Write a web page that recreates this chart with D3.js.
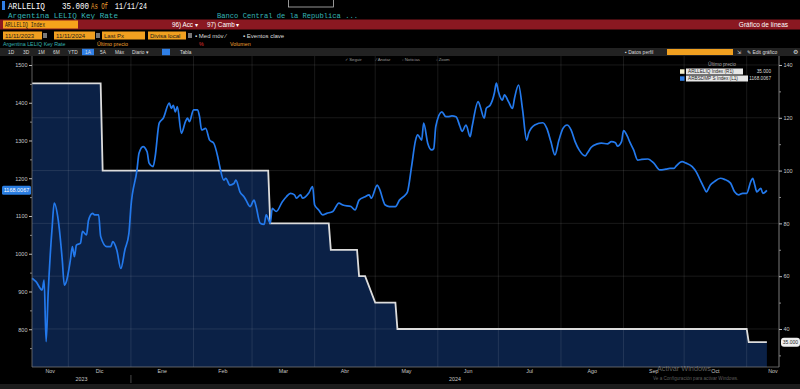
<!DOCTYPE html>
<html><head><meta charset="utf-8">
<script src="https://cdn.jsdelivr.net/npm/d3@7"></script>
<style>
html,body{margin:0;padding:0;background:#000;overflow:hidden;}
svg{display:block;}
</style></head>
<body>
<svg id="c" width="800" height="389"></svg>
<script>
// ---------------- DATA ----------------
const blueDates = ["2023-11-13","2023-11-15","2023-11-18","2023-11-19","2023-11-20","2023-11-21","2023-11-23","2023-11-24","2023-11-26","2023-11-28","2023-11-29","2023-11-30",
"2023-12-02","2023-12-03","2023-12-04","2023-12-05","2023-12-07","2023-12-08","2023-12-10","2023-12-11","2023-12-13","2023-12-14","2023-12-16","2023-12-17","2023-12-20","2023-12-22","2023-12-23","2023-12-25","2023-12-27","2023-12-29","2023-12-31",
"2024-01-01","2024-01-04","2024-01-05","2024-01-07","2024-01-09","2024-01-10","2024-01-12","2024-01-13","2024-01-15","2024-01-17","2024-01-20","2024-01-21","2024-01-22","2024-01-23","2024-01-24","2024-01-26","2024-01-28","2024-01-29","2024-01-30",
"2024-02-01","2024-02-03","2024-02-04","2024-02-05","2024-02-07","2024-02-09","2024-02-11","2024-02-13","2024-02-14","2024-02-16","2024-02-17","2024-02-19","2024-02-21","2024-02-22","2024-02-24","2024-02-26","2024-02-27","2024-02-29",
"2024-03-02","2024-03-03","2024-03-05","2024-03-07","2024-03-08","2024-03-10","2024-03-11","2024-03-13","2024-03-16","2024-03-18","2024-03-20","2024-03-22","2024-03-23","2024-03-25","2024-03-26","2024-03-29","2024-03-31",
"2024-04-01","2024-04-03","2024-04-05","2024-04-07","2024-04-10","2024-04-13","2024-04-15","2024-04-19","2024-04-21","2024-04-23","2024-04-26","2024-04-28","2024-04-29",
"2024-05-02","2024-05-03","2024-05-06","2024-05-08","2024-05-11","2024-05-13","2024-05-16","2024-05-17","2024-05-19","2024-05-21","2024-05-22","2024-05-24","2024-05-25","2024-05-27","2024-05-29","2024-05-30","2024-05-31",
"2024-06-03","2024-06-05","2024-06-06","2024-06-08","2024-06-10","2024-06-12","2024-06-13","2024-06-15","2024-06-17","2024-06-18","2024-06-21","2024-06-22","2024-06-24","2024-06-25","2024-06-27","2024-06-29","2024-06-30",
"2024-07-01","2024-07-03","2024-07-04","2024-07-06","2024-07-08","2024-07-09","2024-07-11","2024-07-13","2024-07-15","2024-07-16","2024-07-19","2024-07-23","2024-07-25","2024-07-27","2024-07-29","2024-07-31",
"2024-08-02","2024-08-04","2024-08-06","2024-08-08","2024-08-10","2024-08-13","2024-08-14","2024-08-16","2024-08-19","2024-08-21","2024-08-24","2024-08-26","2024-08-28","2024-08-29","2024-08-31",
"2024-09-01","2024-09-03","2024-09-04","2024-09-06","2024-09-08","2024-09-10","2024-09-13","2024-09-16","2024-09-19","2024-09-22","2024-09-24","2024-09-26","2024-09-27","2024-09-30",
"2024-10-02","2024-10-05","2024-10-07","2024-10-09","2024-10-11","2024-10-12","2024-10-14","2024-10-16","2024-10-19","2024-10-21","2024-10-24","2024-10-26","2024-10-28","2024-10-30",
"2024-11-01","2024-11-03","2024-11-04","2024-11-05","2024-11-06","2024-11-08","2024-11-09","2024-11-11"];
const blueValues = [935,926,904,930,767,895,1072,1134,1089,983,917,926,
983,1019,992,1023,1028,1059,1050,1089,1107,1103,1103,1046,1019,1019,1032,1010,961,1010,1054,
1125,1222,1266,1284,1270,1240,1231,1257,1346,1359,1399,1385,1393,1376,1390,1319,1350,1359,1350,
1381,1381,1363,1328,1332,1301,1293,1257,1231,1195,1200,1182,1186,1195,1164,1151,1142,1125,
1142,1125,1081,1078,1103,1081,1120,1112,1138,1151,1160,1156,1147,1156,1147,1160,1178,
1129,1116,1103,1107,1112,1134,1129,1125,1116,1142,1151,1156,1147,
1182,1173,1129,1125,1125,1142,1156,1164,1231,1301,1315,1301,1346,1293,1275,1279,1337,
1376,1363,1363,1365,1363,1337,1324,1341,1310,1337,1403,1390,1359,1385,1394,1425,1452,
1430,1407,1421,1403,1385,1412,1447,1381,1301,1319,1341,1347,1332,1297,1262,1301,
1332,1341,1328,1297,1275,1259,1266,1282,1291,1293,1291,1297,1294,1285,1297,
1326,1310,1297,1275,1248,1250,1251,1240,1222,1224,1226,1226,1232,1244,
1240,1231,1217,1195,1173,1164,1182,1191,1200,1197,1187,1164,1156,1160,
1160,1191,1200,1182,1164,1173,1160,1168.0067];

const rateDates  = ["2023-11-13","2023-12-17","2023-12-18","2024-03-09","2024-03-10","2024-04-08","2024-04-09","2024-04-22","2024-04-23","2024-04-26","2024-05-01","2024-05-11","2024-05-12","2024-11-01","2024-11-02","2024-11-11"];
const rateValues = [133,133,100,100,80,80,70,70,60,60,50,50,40,40,35,35];

const leftTicks  = [800,900,1000,1100,1200,1300,1400,1500];
const leftMinor  = [750,850,950,1050,1150,1250,1350,1450];
const rightTicks = [40,60,80,100,120,140];
const rightMinor = [30,50,70,90,110,130];
const monthNames = ["Ene","Feb","Mar","Abr","May","Jun","Jul","Ago","Sep","Oct","Nov","Dic"];
const seriesNames = ["ARLLELIQ Index (R1)","ARBSDMP S Index (L1)"];
const lastValues = ["35.000","1168.0067"];

// ---------------- SETUP ----------------
const parse = d3.timeParse("%Y-%m-%d");
const svg = d3.select("#c");
const P = {left:32, right:779, top:56, bottom:367};
const x  = d3.scaleTime().domain([parse("2023-11-13"), parse("2024-11-17")]).range([P.left, P.right]);
const yL = d3.scaleLinear().domain([700, 1523.8]).range([P.bottom, P.top]);
const yR = d3.scaleLinear().domain([25.6, 143.4]).range([P.bottom, P.top]);

const blue = blueDates.map((d,i)=>({date:parse(d), v:blueValues[i]}));
const rate = rateDates.map((d,i)=>({date:parse(d), v:rateValues[i]}));

const SANS = "'Liberation Sans', Arial, sans-serif";
const MONO = "'Liberation Mono', 'DejaVu Sans Mono', monospace";
function txt(xp, yp, s, o={}) {
  const t = svg.append("text").attr("x",xp).attr("y",yp).text(s)
    .attr("fill", o.fill||"#fff").attr("font-size", o.size||6)
    .attr("font-family", o.font||SANS).attr("text-anchor", o.anchor||"start")
    .attr("font-weight", o.weight||"normal");
  if (o.len) t.attr("textLength", o.len).attr("lengthAdjust","spacingAndGlyphs");
  return t;
}
function rect(xp,yp,w,h,fill,o={}) {
  return svg.append("rect").attr("x",xp).attr("y",yp).attr("width",w).attr("height",h)
    .attr("fill",fill).attr("rx",o.rx||0).attr("stroke",o.stroke||"none").attr("stroke-width",o.sw||1);
}

// ---------------- HEADER ----------------
rect(2,1,3,9,"#2f7fe6");
txt(8,8.8,"ARLLELIQ",{font:MONO,size:8.5,len:37});
txt(62,8.8,"35.000",{font:MONO,size:8.5,len:27});
txt(91,8.8,"As Of",{font:MONO,size:8.5,fill:"#f0a030",len:17});
txt(115,8.8,"11/11/24",{font:MONO,size:8.5,len:32});
rect(288.5,-1,45,8,"none",{stroke:"#bbb",sw:0.8});
txt(8,17.8,"Argentina LELIQ Key Rate",{font:MONO,size:7.6,fill:"#36b4b4",len:110});
txt(217,17.8,"Banco Central de la Republica ...",{font:MONO,size:7.3,fill:"#36b4b4",len:141});

rect(0,19.5,800,10,"#8a1821");
rect(3,20.5,75,8,"#f6a31b");
txt(5,27.2,"ARLLELIQ Index",{size:6.8,fill:"#1a1a1a",font:MONO,len:40});
txt(172,27,"96) Acc ▾",{size:6.3});
txt(207,27,"97) Camb ▾",{size:6.3});
txt(788,27,"Gráfico de líneas",{size:6.5,anchor:"end"});

[[3,39,"11/11/2023"],[54,41,"11/11/2024"],[102,43,"Last Px"],[148,38,"Divisa local"]].forEach(b=>{
  rect(b[0],31.5,b[1],8,"#f0a020");
  txt(b[0]+2,38.2,b[2],{size:6,fill:"#1a1a1a"});
});
rect(43,33,4,5,"#777"); rect(96,33,4,5,"#777"); rect(188,33,4,5,"#777");
txt(195,38.2,"▪ Med móv ⁄",{size:6,fill:"#ddd"});
txt(243,38.2,"▪ Eventos clave",{size:6,fill:"#ddd"});

txt(3,46,"Argentina LELIQ Key Rate",{size:5.3,fill:"#36b4b4"});
txt(97,46,"Último precio",{size:5.3,fill:"#f0a030"});
txt(199,46,"%",{size:5.3,fill:"#e03030"});
txt(230,46,"Volumen",{size:5.3,fill:"#f0a030"});

rect(0,48,800,8,"#222");
[["1D",8],["3D",23],["1M",38],["6M",53],["YTD",68],["1A",85],["5A",100],["Máx",115],["Diario ▾",132],["Tabla",180]].forEach(b=>{
  if (b[0]==="1A") rect(82,48.8,12,6.4,"#2f7fe6");
  txt(b[1],54,b[0],{size:4.8,fill:"#ddd"});
});
rect(162,48.8,8,6.4,"#2f7fe6");
txt(625,54,"▪ Datos perfil",{size:5,fill:"#ddd"});
rect(667,49,66,6,"#f0a020");
txt(737,54,"⇲",{size:5,fill:"#ddd"});
txt(747,54,"✎ Edit gráfico",{size:5,fill:"#ddd"});
txt(793,54,"⚙",{size:5.5,fill:"#ddd"});

// ---------------- PLOT ----------------
const g = svg.append("g");
g.append("path").datum(rate)
  .attr("d", d3.area().x(d=>x(d.date)).y0(P.bottom).y1(d=>yR(d.v)))
  .attr("fill","#0b2146");

const months = d3.timeMonth.range(d3.timeMonth.ceil(x.domain()[0]), x.domain()[1]);
g.selectAll(".vg").data(months).join("line")
  .attr("x1",d=>x(d)).attr("x2",d=>x(d)).attr("y1",P.top).attr("y2",P.bottom)
  .attr("stroke","#fff").attr("stroke-opacity",0.14).attr("stroke-width",0.7);
g.selectAll(".hg").data(rightTicks).join("line")
  .attr("x1",P.left).attr("x2",P.right).attr("y1",d=>yR(d)).attr("y2",d=>yR(d))
  .attr("stroke","#fff").attr("stroke-opacity",0.14).attr("stroke-width",0.7);

g.append("path").datum(rate)
  .attr("d", d3.line().x(d=>x(d.date)).y(d=>yR(d.v)))
  .attr("fill","none").attr("stroke","#dcdcdc").attr("stroke-width",1.8);
g.append("path").datum(blue)
  .attr("d", d3.line().x(d=>x(d.date)).y(d=>yL(d.v)).curve(d3.curveMonotoneX))
  .attr("fill","none").attr("stroke","#2379ec").attr("stroke-width",1.7);

svg.append("line").attr("x1",P.left).attr("x2",P.left).attr("y1",P.top).attr("y2",P.bottom).attr("stroke","#777").attr("stroke-width",0.8);
svg.append("line").attr("x1",P.right).attr("x2",P.right).attr("y1",P.top).attr("y2",P.bottom).attr("stroke","#999").attr("stroke-width",0.8);
svg.append("line").attr("x1",P.left).attr("x2",P.right).attr("y1",P.bottom).attr("y2",P.bottom).attr("stroke","#777").attr("stroke-width",0.8);

const axL = d3.axisLeft(yL).tickValues(leftTicks).tickSize(3).tickPadding(1.5).tickFormat(d3.format("d"));
const gL = svg.append("g").attr("transform",`translate(${P.left},0)`).call(axL);
gL.select(".domain").remove();
gL.selectAll("line").attr("stroke","#bbb");
gL.selectAll("text").attr("fill","#c8c8c8").attr("font-size",5.5).attr("font-family",SANS);
svg.append("g").attr("transform",`translate(${P.left},0)`)
  .call(d3.axisLeft(yL).tickValues(leftMinor).tickSize(2).tickFormat(""))
  .call(s=>{s.select(".domain").remove(); s.selectAll("line").attr("stroke","#888");});

const axR = d3.axisRight(yR).tickValues(rightTicks).tickSize(3).tickPadding(1.5).tickFormat(d3.format("d"));
const gR = svg.append("g").attr("transform",`translate(${P.right},0)`).call(axR);
gR.select(".domain").remove();
gR.selectAll("line").attr("stroke","#bbb");
gR.selectAll("text").attr("fill","#c8c8c8").attr("font-size",5.5).attr("font-family",SANS);
svg.append("g").attr("transform",`translate(${P.right},0)`)
  .call(d3.axisRight(yR).tickValues(rightMinor).tickSize(2).tickFormat(""))
  .call(s=>{s.select(".domain").remove(); s.selectAll("line").attr("stroke","#888");});

const allMonths = d3.timeMonth.range(d3.timeMonth.floor(x.domain()[0]), x.domain()[1]);
allMonths.forEach(m=>{
  const s = Math.max(x(m), P.left);
  const e = x(d3.timeMonth.offset(m,1));
  const cx = Math.min((s+e)/2, P.right-6);
  txt(cx, 373, monthNames[m.getMonth()], {size:5.3, fill:"#c8c8c8", anchor:"middle"});
});
const years = d3.timeYear.range(d3.timeYear.floor(x.domain()[0]), x.domain()[1]);
years.forEach(yv=>{
  const s = Math.max(x(yv), P.left);
  const e = Math.min(x(d3.timeYear.offset(yv,1)), P.right);
  txt((s+e)/2, 381, String(yv.getFullYear()), {size:5.3, fill:"#c8c8c8", anchor:"middle"});
  if (x(yv) > P.left) svg.append("line").attr("x1",x(yv)).attr("x2",x(yv)).attr("y1",375).attr("y2",383).attr("stroke","#666").attr("stroke-width",0.7);
});

[["✓ Seguir",345],["⁄ Anotar",376],["▫ Noticias",402],["▫ Zoom",436]].forEach(t=>txt(t[1],60.5,t[0],{size:4.3,fill:"#999"}));

txt(722,66,"Último precio",{size:4.8,fill:"#aaa",anchor:"middle"});
const legColors = ["#f3efcc","#2f7fe6"];
seriesNames.forEach((n,i)=>{
  const yy = 68.5 + i*7;
  rect(680, yy+0.8, 4.5, 4.5, legColors[i]);
  rect(686, yy, i===0?57:62, 6, "#e6e6e6");
  txt(688, yy+4.7, n, {size:4.7, fill:"#222"});
  txt(771, yy+4.7, lastValues[i], {size:4.7, fill:"#ddd", anchor:"end"});
});

const yb = yL(blueValues[blueValues.length-1]);
rect(2, yb-4.5, 29, 9, "#2a7de1", {rx:1.5});
txt(16.5, yb+2, lastValues[1], {size:5.5, anchor:"middle"});
const yr = yR(rateValues[rateValues.length-1]);
rect(781, yr-4.5, 19, 9, "#efefef", {rx:3});
txt(790.5, yr+2, lastValues[0], {size:5, anchor:"middle", fill:"#222"});

svg.append("text").attr("x",657).attr("y",370.5).text("Activar Windows")
  .attr("fill","#aaa").attr("fill-opacity",0.55).attr("font-size",7.3).attr("font-family",SANS);
svg.append("text").attr("x",653).attr("y",380).text("Ve a Configuración para activar Windows.")
  .attr("fill","#aaa").attr("fill-opacity",0.55).attr("font-size",4.6).attr("font-family",SANS);

rect(0,384,800,5,"#1c1c1c");
</script>
</body></html>
